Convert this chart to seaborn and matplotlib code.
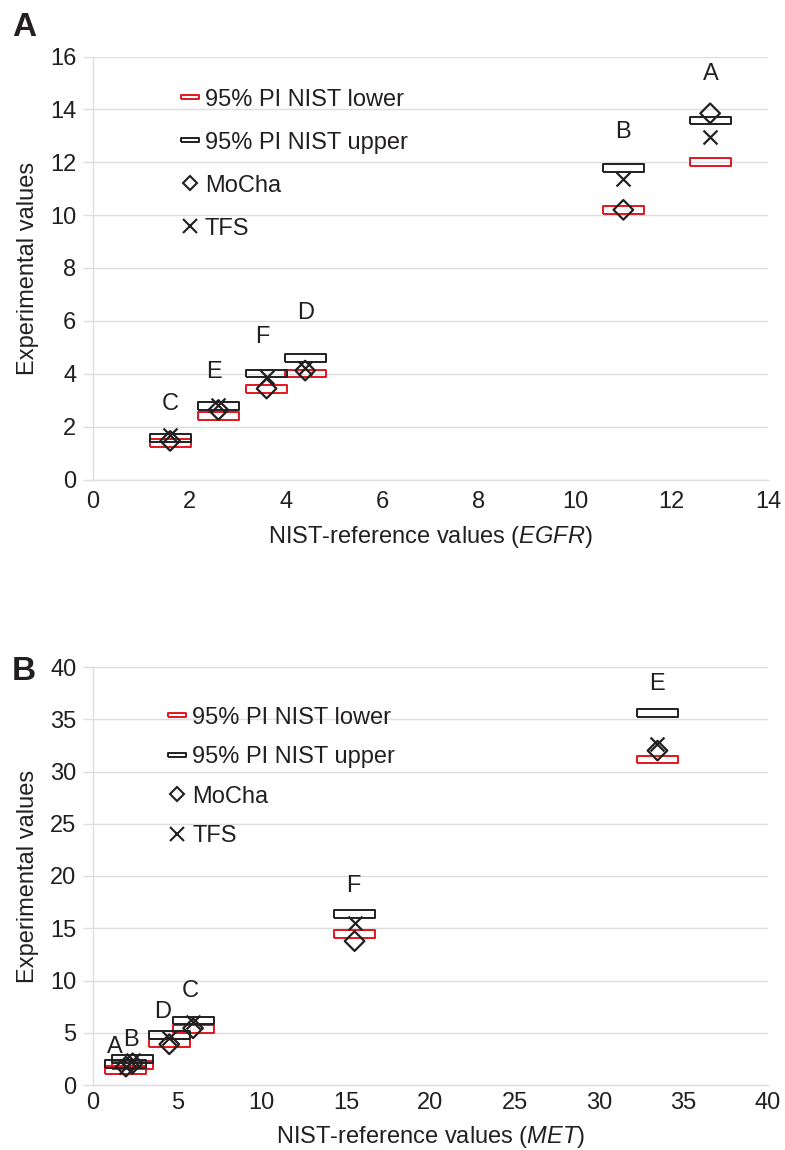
import matplotlib
matplotlib.use("Agg")
import matplotlib.pyplot as plt
from matplotlib.lines import Line2D
import pandas as pd
import seaborn as sns

# Panel A: EGFR
egfr_labels = ["A", "B", "C", "D", "E", "F"]
egfr_ref = [12.8, 11.0, 1.6, 4.4, 2.6, 3.6]
egfr_lower = [12.0, 10.19, 1.39, 4.01, 2.41, 3.41]
egfr_upper = [13.58, 11.79, 1.58, 4.61, 2.78, 4.01]
egfr_mocha = [13.85, 10.2, 1.46, 4.12, 2.63, 3.44]
egfr_tfs = [12.97, 11.38, 1.68, 4.22, 2.82, 3.89]

# Panel B: MET
met_labels = ["A", "B", "C", "D", "E", "F"]
met_ref = [1.95, 2.35, 5.93, 4.52, 33.45, 15.5]
met_lower = [1.44, 1.88, 5.34, 4.03, 31.15, 14.43]
met_upper = [2.04, 2.52, 6.17, 4.79, 35.6, 16.36]
met_mocha = [1.76, 2.08, 5.43, 3.9, 32.0, 13.77]
met_tfs = [1.7, 2.4, 6.0, 4.47, 32.66, 15.47]

legend_names = ["95% PI NIST lower", "95% PI NIST upper", "MoCha", "TFS"]

# label offsets (pixels) relative to the upper PI marker
egfr_lab_dx = [1, 0, 0, 0, -4, -4]
egfr_lab_dy = [46, 36, 34, 45, 34, 36]
met_lab_dx = [-11, -2, -3, -7, 0, -1]
met_lab_dy = [17, 19, 30, 23, 29, 28]

RED = "#e3161e"
INK = "#231f20"
GRID = "#dedede"
BOX = [(-1, -0.19), (1, -0.19), (1, 0.19), (-1, 0.19), (-1, -0.19)]

sns.set_style("whitegrid")
plt.rcParams["font.family"] = ["Liberation Sans", "DejaVu Sans"]
plt.rcParams["mathtext.fontset"] = "custom"
plt.rcParams["mathtext.rm"] = "Liberation Sans"
plt.rcParams["mathtext.it"] = "Liberation Sans:italic"

FS = 17

fig = plt.figure(figsize=(7.85, 11.5), dpi=100)
axA = fig.add_axes([93 / 785, 1 - 479.5 / 1150, 675 / 785, 423 / 1150])
axB = fig.add_axes([93 / 785, 1 - 1085 / 1150, 675 / 785, 418 / 1150])


def draw_panel(ax, labels, ref, lower, upper, mocha, tfs, dx, dy):
    df = pd.DataFrame({"label": labels, "ref": ref, "lower": lower,
                       "upper": upper, "mocha": mocha, "tfs": tfs})
    sns.scatterplot(data=df, x="ref", y="lower", marker=BOX, s=870,
                    facecolor="none", edgecolor=RED, linewidth=1.4,
                    ax=ax, zorder=3)
    sns.scatterplot(data=df, x="ref", y="upper", marker=BOX, s=870,
                    facecolor="none", edgecolor=INK, linewidth=1.4,
                    ax=ax, zorder=3)
    sns.scatterplot(data=df, x="ref", y="mocha", marker="D", s=100,
                    facecolor="none", edgecolor=INK, linewidth=1.6,
                    ax=ax, zorder=4)
    sns.scatterplot(data=df, x="ref", y="tfs", marker="x", s=100,
                    color=INK, linewidth=1.6, ax=ax, zorder=4)
    for lab, x, top, ox, oy in zip(labels, ref, upper, dx, dy):
        ax.annotate(lab, (x, top), xytext=(ox, oy), textcoords="offset pixels",
                    ha="center", va="center", fontsize=FS, color=INK)


def style_axes(ax, xmax, xstep, ymax, ystep, gene, tick_pad, xlab_y,
               leg_anchor, leg_space):
    ax.set_xlim(0, xmax)
    ax.set_ylim(0, ymax)
    ax.set_xticks(range(0, xmax + 1, xstep))
    ax.set_yticks(range(0, ymax + 1, ystep))
    ax.grid(axis="x", visible=False)
    ax.grid(axis="y", color=GRID, linewidth=1)
    for side in ["top", "right"]:
        ax.spines[side].set_visible(False)
    for side in ["left", "bottom"]:
        ax.spines[side].set_color(GRID)
        ax.spines[side].set_linewidth(1)
    ax.tick_params(axis="y", left=True, length=7, width=1, color=GRID,
                   labelsize=FS, pad=5, labelcolor=INK)
    ax.tick_params(axis="x", length=0, labelsize=FS, pad=tick_pad,
                   labelcolor=INK)
    ax.set_xlabel("NIST-reference values ($\\mathit{" + gene + "}$)",
                  fontsize=FS, color=INK)
    ax.set_ylabel("Experimental values", fontsize=FS, color=INK)
    ax.xaxis.set_label_coords(0.5, xlab_y)
    ax.yaxis.set_label_coords(-0.08, 0.5)

    handles = [
        Line2D([], [], ls="none", marker=BOX, ms=13, mfc="none", mec=RED, mew=1.4),
        Line2D([], [], ls="none", marker=BOX, ms=13, mfc="none", mec=INK, mew=1.4),
        Line2D([], [], ls="none", marker="D", ms=7.5, mfc="none", mec=INK, mew=1.5),
        Line2D([], [], ls="none", marker="x", ms=10.5, color=INK, mew=1.5),
    ]
    ax.legend(handles, legend_names, loc="upper left", bbox_to_anchor=leg_anchor,
              frameon=False, fontsize=FS, handlelength=0.8, handletextpad=0.25,
              labelspacing=leg_space, borderaxespad=0, borderpad=0,
              labelcolor=INK)


draw_panel(axA, egfr_labels, egfr_ref, egfr_lower, egfr_upper, egfr_mocha,
           egfr_tfs, egfr_lab_dx, egfr_lab_dy)
style_axes(axA, 14, 2, 16, 2, "EGFR", 8, -0.105, (0.129, 0.924), 0.89)

draw_panel(axB, met_labels, met_ref, met_lower, met_upper, met_mocha,
           met_tfs, met_lab_dx, met_lab_dy)
style_axes(axB, 40, 5, 40, 5, "MET", 5, -0.094, (0.11, 0.905), 0.74)

fig.text(12 / 785, 1 - 36 / 1150, "A", fontsize=24, fontweight="bold",
         color=INK, va="baseline")
fig.text(12 / 785, 1 - 680 / 1150, "B", fontsize=24, fontweight="bold",
         color=INK, va="baseline")

fig.savefig("out.png", dpi=100)
